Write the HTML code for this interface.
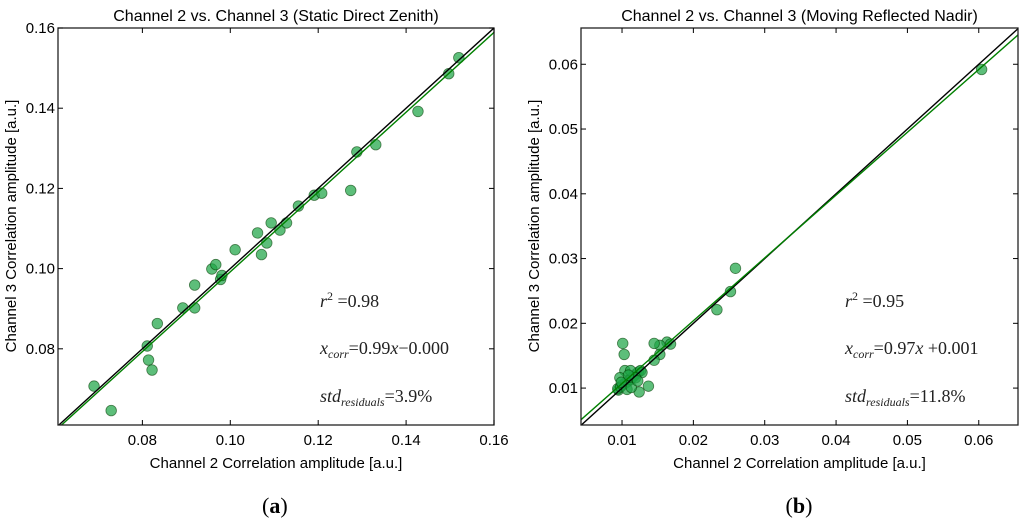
<!DOCTYPE html>
<html><head><meta charset="utf-8"><style>
body{margin:0;background:#fff;width:1024px;height:526px;overflow:hidden}
</style></head><body>
<svg id="fig" width="1024" height="526" font-family="Liberation Sans, sans-serif"></svg>
<script>
const leftX=[0.069,0.0729,0.0811,0.0814,0.0822,0.0834,0.0892,0.0919,0.0919,0.0958,0.0967,0.0978,0.0981,0.1011,0.1062,0.1071,0.1083,0.1093,0.1113,0.1128,0.1155,0.1191,0.1208,0.1274,0.1288,0.1331,0.1427,0.1497,0.152];
const leftY=[0.0707,0.0646,0.0807,0.0772,0.0747,0.0863,0.0902,0.0959,0.0902,0.0999,0.101,0.0973,0.0983,0.1047,0.1089,0.1035,0.1064,0.1114,0.1096,0.1114,0.1156,0.1183,0.1188,0.1195,0.1291,0.1309,0.1392,0.1486,0.1526];
const rightX=[0.0604,0.0259,0.0252,0.0233,0.0163,0.0168,0.0153,0.0145,0.0153,0.0145,0.0137,0.0101,0.0103,0.0124,0.0095,0.0094,0.0098,0.0101,0.0105,0.0108,0.0111,0.0114,0.0117,0.012,0.0123,0.0126,0.0128,0.0104,0.0112,0.0119,0.0097,0.0107,0.0113,0.0122,0.0099,0.0109];
const rightY=[0.0592,0.0285,0.0249,0.0221,0.0171,0.0168,0.0166,0.0169,0.0152,0.0143,0.0103,0.0169,0.0152,0.0094,0.0097,0.0099,0.0102,0.0105,0.0108,0.011,0.0113,0.0116,0.0119,0.0122,0.0125,0.0127,0.0124,0.0127,0.0127,0.0116,0.0116,0.0098,0.0101,0.0111,0.0109,0.012];
const leftTicks=[0.08,0.10,0.12,0.14,0.16];
const rightTicks=[0.01,0.02,0.03,0.04,0.05,0.06];
const leftFit=[0.995,-0.0003];
const rightFit=[0.97,0.001];
const NS="http://www.w3.org/2000/svg";
const svg=document.getElementById('fig');
function mk(t,a,p){const e=document.createElementNS(NS,t);for(const k in a)e.setAttribute(k,a[k]);(p||svg).appendChild(e);return e;}
function panel(o){
 const g=mk('g',{});
 
 
 const sx=v=>o.x0+(v-o.dx[0])/(o.dx[1]-o.dx[0])*(o.x1-o.x0);
 const sy=v=>o.y1-(v-o.dy[0])/(o.dy[1]-o.dy[0])*(o.y1-o.y0);
 const cp='cp'+o.name;
 const cl=mk('clipPath',{id:cp},g);mk('rect',{x:o.x0,y:o.y0,width:o.x1-o.x0,height:o.y1-o.y0},cl);
 const pts=mk('g',{'clip-path':'url(#'+cp+')'},g);
 for(let i=0;i<o.xs.length;i++){const c=mk('circle',{cx:sx(o.xs[i]),cy:sy(o.ys[i]),r:5.3,fill:'rgba(30,165,70,0.72)',stroke:'rgba(0,60,0,0.6)','stroke-width':0.8},pts);
  
  }
 const lo=Math.min(o.dx[0],o.dy[0]),hi=Math.max(o.dx[1],o.dy[1]);
 const l1=mk('line',{x1:sx(lo),y1:sy(lo),x2:sx(hi),y2:sy(hi),stroke:'#000','stroke-width':1.4},pts);
 
 
 const f=o.fit;
 const l2=mk('line',{x1:sx(lo),y1:sy(f[0]*lo+f[1]),x2:sx(hi),y2:sy(f[0]*hi+f[1]),stroke:'#008000','stroke-width':1.4},pts);
 
 
 mk('rect',{x:o.x0,y:o.y0,width:o.x1-o.x0,height:o.y1-o.y0,fill:'none',stroke:'#222','stroke-width':1.3},g);
 o.ticks.forEach(t=>{
  const X=sx(t);
  mk('line',{x1:X,y1:o.y1,x2:X,y2:o.y1-5,stroke:'#000'},g);mk('line',{x1:X,y1:o.y0,x2:X,y2:o.y0+5,stroke:'#000'},g);
  const tx=mk('text',{x:X,y:o.y1+20,'font-size':15,'text-anchor':'middle'},g);tx.textContent=t.toFixed(o.dec);
  
  
  const Y=sy(t);
  mk('line',{x1:o.x0,y1:Y,x2:o.x0+5,y2:Y,stroke:'#000'},g);mk('line',{x1:o.x1,y1:Y,x2:o.x1-5,y2:Y,stroke:'#000'},g);
  const ty=mk('text',{x:o.x0-3,y:Y+5,'font-size':15,'text-anchor':'end'},g);ty.textContent=t.toFixed(o.dec);
  
  
 });
 const tt=mk('text',{x:(o.x0+o.x1)/2,y:21,'font-size':16,'text-anchor':'middle'},g);tt.textContent=o.title;
 
 
 const xl=mk('text',{x:(o.x0+o.x1)/2,y:468,'font-size':15,'text-anchor':'middle'},g);xl.textContent='Channel 2 Correlation amplitude [a.u.]';
 
 
 const yx=o.x0-42;
 const yl=mk('text',{x:yx,y:226,'font-size':15,'text-anchor':'middle',transform:'rotate(-90 '+yx+' 226)'},g);yl.textContent='Channel 3 Correlation amplitude [a.u.]';
 
 
 const ann=mk('g',{'font-family':'Liberation Serif, serif','font-size':18,fill:'#222'},g);
 
 
 ann.innerHTML='<text x="'+o.ax+'" y="307"><tspan font-style="italic">r</tspan><tspan dy="-7" font-size="12">2</tspan><tspan dy="7"> =</tspan>'+o.r2+'</text>'+
 '<text x="'+o.ax+'" y="354"><tspan font-style="italic">x</tspan><tspan dy="4" font-size="12" font-style="italic">corr</tspan><tspan dy="-4">='+o.eq+'</tspan></text>'+
 '<text x="'+o.ax+'" y="402"><tspan font-style="italic">std</tspan><tspan dy="4" font-size="12" font-style="italic">residuals</tspan><tspan dy="-4">='+o.sd+'</tspan></text>';
 const lb=mk('text',{x:(o.x0+o.x1)/2-14,y:513,'font-size':22,'font-family':'Liberation Serif, serif'},g);
 lb.innerHTML='(<tspan font-weight="bold">'+o.lab+'</tspan>)';
 
 
}
panel({name:'panel-a',x0:58,x1:494,y0:28,y1:425,dx:[0.0608,0.16],dy:[0.061,0.16],xs:leftX,ys:leftY,ticks:leftTicks,dec:2,fit:leftFit,title:'Channel 2 vs. Channel 3 (Static Direct Zenith)',ax:320,r2:'0.98',eq:'0.99<tspan font-style="italic">x</tspan>−0.000',sd:'3.9%',lab:'a'});
panel({name:'panel-b',x0:581,x1:1018,y0:28,y1:425,dx:[0.00425,0.0655],dy:[0.0043,0.0656],xs:rightX,ys:rightY,ticks:rightTicks,dec:2,fit:rightFit,title:'Channel 2 vs. Channel 3 (Moving Reflected Nadir)',ax:845,r2:'0.95',eq:'0.97<tspan font-style="italic">x</tspan> +0.001',sd:'11.8%',lab:'b'});
</script>
</body></html>
